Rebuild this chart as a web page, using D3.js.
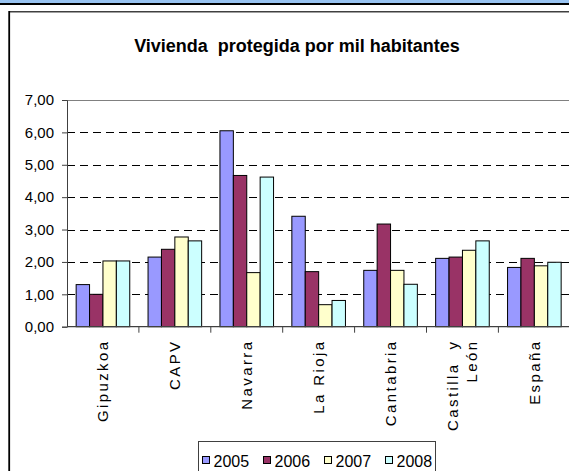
<!DOCTYPE html>
<html>
<head>
<meta charset="utf-8">
<script src="https://cdn.jsdelivr.net/npm/d3@7"></script>
<style>
  body { margin: 0; background: #fff; }
  svg { display: block; font-family: "Liberation Sans", Arial, sans-serif; }
</style>
</head>
<body>
<script>
// data
var categories = ["Gipuzkoa", "CAPV", "Navarra", "La Rioja", "Cantabria", "Castilla y León", "España"];
var years = ["2005", "2006", "2007", "2008"];
var v2005 = [1.30, 2.15, 6.05, 3.41, 1.74, 2.11, 1.83];
var v2006 = [1.00, 2.39, 4.67, 1.70, 3.17, 2.15, 2.11];
var v2007 = [2.03, 2.77, 1.67, 0.68, 1.74, 2.36, 1.88];
var v2008 = [2.03, 2.65, 4.62, 0.81, 1.31, 2.65, 1.99];
var yTicks = [0, 1, 2, 3, 4, 5, 6, 7];
var colors = ["#9999ff", "#993366", "#ffffcc", "#ccffff"];

var series = [v2005, v2006, v2007, v2008];
var rows = categories.map(function(c, i){
  return { cat: c, vals: series.map(function(s){ return s[i]; }) };
});

var W = 569, H = 471;
var svg = d3.select("body").append("svg").attr("width", W).attr("height", H);

// header strip + frame
svg.append("rect").attr("x", 0).attr("y", 0).attr("width", W).attr("height", 3).attr("fill", "#99c4f2");
svg.append("rect").attr("x", 0).attr("y", 3).attr("width", W).attr("height", 2).attr("fill", "#000");
svg.append("line").attr("x1", 9).attr("x2", W).attr("y1", 11.8).attr("y2", 11.8)
  .attr("stroke", "#404040").attr("stroke-width", 1.6);
svg.append("line").attr("x1", 9.2).attr("x2", 9.2).attr("y1", 11).attr("y2", H)
  .attr("stroke", "#000").attr("stroke-width", 1.8);

// title
svg.append("text")
  .attr("x", 297).attr("y", 51.5)
  .attr("text-anchor", "middle")
  .attr("font-size", "18px").attr("font-weight", "bold")
  .style("white-space", "pre")
  .text("Vivienda  protegida por mil habitantes");

var plotL = 67, plotR = 570.3, plotT = 100, plotB = 326.7;

var y = d3.scaleLinear().domain([0, 7]).range([plotB, plotT]);
var pad = 0.2545;
var x0 = d3.scaleBand().domain(categories).range([plotL, plotR]).paddingInner(pad).paddingOuter(pad / 2);
var x1 = d3.scaleBand().domain(years).range([0, x0.bandwidth()]);

// gridlines
svg.append("g").selectAll("line.grid")
  .data(yTicks.filter(function(d){ return d > 0 && d < 7; }))
  .enter().append("line")
    .attr("class", "grid")
    .attr("x1", plotL).attr("x2", plotR)
    .attr("y1", function(d){ return Math.round(y(d)) + 0.5; })
    .attr("y2", function(d){ return Math.round(y(d)) + 0.5; })
    .attr("stroke", "#000").attr("stroke-dasharray", "8,5");

// top border of the plot
svg.append("line").attr("x1", plotL).attr("x2", plotR)
  .attr("y1", Math.round(y(7)) + 0.5).attr("y2", Math.round(y(7)) + 0.5)
  .attr("stroke", "#808080");

// bars
var groups = svg.append("g").selectAll("g.grp")
  .data(rows)
  .enter().append("g")
    .attr("class", "grp")
    .attr("transform", function(d){ return "translate(" + x0(d.cat) + ",0)"; });

groups.selectAll("rect")
  .data(function(d){ return d.vals.map(function(v, j){ return { yr: years[j], v: v, j: j }; }); })
  .enter().append("rect")
    .attr("x", function(d){ return x1(d.yr); })
    .attr("y", function(d){ return y(d.v); })
    .attr("width", x1.bandwidth())
    .attr("height", function(d){ return plotB - y(d.v); })
    .attr("fill", function(d){ return colors[d.j]; })
    .attr("stroke", "#000").attr("stroke-width", 1);

// y axis
var yAxis = d3.axisLeft(y)
  .tickValues(yTicks)
  .tickSize(5)
  .tickPadding(8)
  .tickFormat(function(d){ return d.toFixed(2).replace(".", ","); });

var ya = svg.append("g").attr("transform", "translate(" + plotL + ",0)").call(yAxis);
ya.select(".domain").attr("stroke", "#404040");
ya.selectAll(".tick line").attr("stroke", "#404040");
ya.selectAll("text").attr("font-size", "15px").attr("font-family", "Liberation Sans, Arial, sans-serif").attr("fill", "#000");

// x axis line + boundary ticks
var step = x0.step();
svg.append("line").attr("x1", plotL).attr("x2", plotR).attr("y1", plotB).attr("y2", plotB)
  .attr("stroke", "#404040").attr("stroke-width", 1.2);
svg.append("g").selectAll("line.xt")
  .data(categories.slice(1))
  .enter().append("line")
    .attr("class", "xt")
    .attr("x1", function(d){ return x0(d) - step * pad / 2; })
    .attr("x2", function(d){ return x0(d) - step * pad / 2; })
    .attr("y1", plotB).attr("y2", plotB + 6)
    .attr("stroke", "#404040");

// category labels, rotated
var labelLines = {
  "Castilla y León": ["Castilla  y", "León"]
};
var lab = svg.append("g").selectAll("text.cat")
  .data(categories)
  .enter().append("text")
    .attr("class", "cat")
    .attr("transform", function(d){
      var cx = x0(d) + x0.bandwidth() / 2;
      return "translate(" + cx + "," + 339.5 + ") rotate(-90)";
    })
    .attr("text-anchor", "end")
    .attr("font-size", "15px")
    .attr("letter-spacing", "2.4px")
    .style("white-space", "pre");

lab.each(function(d){
  var lines = labelLines[d] || [d];
  var t = d3.select(this);
  var n = lines.length;
  lines.forEach(function(l, k){
    t.append("tspan")
      .attr("x", 0)
      .attr("dy", k === 0 ? ((0.35 - (n - 1) * 0.65) + "em") : "1.3em")
      .text(l);
  });
});

// legend
var lg = svg.append("g");
lg.append("rect").attr("x", 198.5).attr("y", 441.5).attr("width", 237).attr("height", 50)
  .attr("fill", "#fff").attr("stroke", "#404040");
var items = lg.selectAll("g.item")
  .data(years)
  .enter().append("g")
    .attr("class", "item")
    .attr("transform", function(d, i){ return "translate(" + (202.5 + i * 61) + ",0)"; });
items.append("rect")
  .attr("x", 0).attr("y", 456.5).attr("width", 7).attr("height", 7)
  .attr("fill", function(d, i){ return colors[i]; })
  .attr("stroke", "#000");
items.append("text")
  .attr("x", 11).attr("y", 466.5)
  .attr("font-size", "16px")
  .text(function(d){ return d; });
</script>
</body>
</html>
